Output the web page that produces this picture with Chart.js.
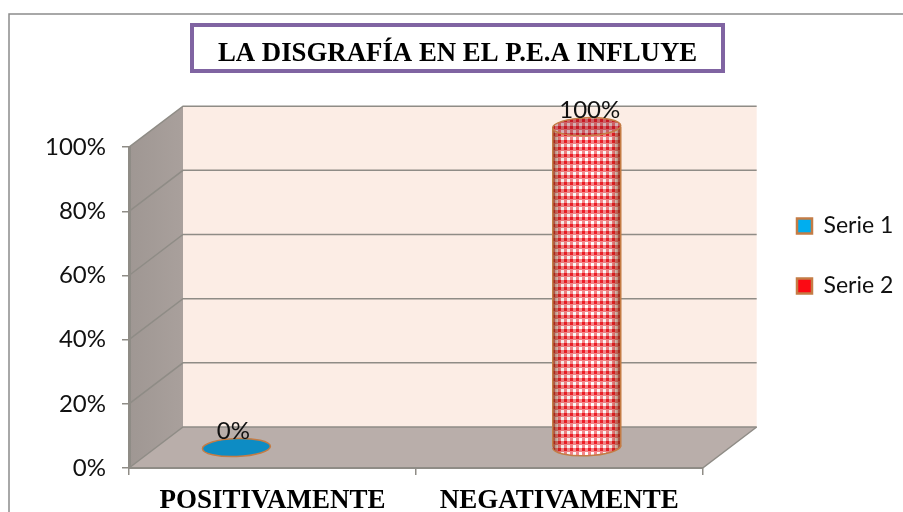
<!DOCTYPE html>
<html><head><meta charset="utf-8">
<style>html,body{margin:0;padding:0;background:#fff}#w{width:903px;height:512px}canvas{display:block}</style>
<script src="https://cdn.jsdelivr.net/npm/chart.js@4"></script>
</head><body><div id="w"><canvas id="c" width="903" height="512"></canvas></div>
<script>
const categories = ['POSITIVAMENTE', 'NEGATIVAMENTE'];
const serieNames = ['Serie 1', 'Serie 2'];
const serie1 = [0, null];
const serie2 = [null, 1];
const yTicks = [0, .2, .4, .6, .8, 1];
const titleText = 'LA DISGRAFÍA EN EL P.E.A INFLUYE';

const DX = 54, DY = -41;            // 3-D depth of the box
const SANS = 'Lato, sans-serif', SERIF = '"Liberation Serif", serif';

function gingham() {
  const p = document.createElement('canvas'); p.width = 6; p.height = 7;
  const g = p.getContext('2d');
  g.fillStyle = '#f58488'; g.fillRect(0, 0, 6, 7);
  g.fillStyle = '#ee1822'; g.fillRect(0, 0, 3, 3);
  g.fillStyle = '#ffffff'; g.fillRect(3, 4, 3, 3);
  return p;
}

const box3d = {
  id: 'box3d',
  afterLayout(chart) {
    const lg = chart.legend, w = lg.width;
    lg.left = 797 - lg.options.labels.padding; lg.right = lg.left + w;
    const t = chart.titleBlock; t.left += 34.5; t.right += 34.5;
  },
  beforeDraw(chart) {
    const c = chart.ctx, a = chart.chartArea, y = chart.scales.y;
    c.save();
    c.fillStyle = '#fff'; c.fillRect(0, 0, chart.width, chart.height);
    // outer frame
    c.strokeStyle = '#8c8c8c'; c.lineWidth = 1.5;
    c.beginPath(); c.moveTo(9, 512); c.lineTo(9, 14); c.lineTo(903, 14); c.stroke();
    // title frame
    c.strokeStyle = '#8064A2'; c.lineWidth = 4;
    c.strokeRect(192, 25, 531, 46);
    const L = a.left, R = a.right, T = y.getPixelForValue(1), B = y.getPixelForValue(0);
    // back wall
    c.fillStyle = '#fcede5';
    c.fillRect(L + DX, T + DY, R - L, B - T);
    // side wall
    const sg = c.createLinearGradient(L, 0, L + DX, 0);
    sg.addColorStop(0, '#9f9793'); sg.addColorStop(1, '#a9a09c');
    c.fillStyle = sg;
    c.beginPath(); c.moveTo(L, T); c.lineTo(L + DX, T + DY); c.lineTo(L + DX, B + DY); c.lineTo(L, B); c.closePath(); c.fill();
    // floor
    c.fillStyle = '#b9aeaa';
    c.beginPath(); c.moveTo(L, B); c.lineTo(L + DX, B + DY); c.lineTo(R + DX, B + DY); c.lineTo(R, B); c.closePath(); c.fill();
    // grid
    c.strokeStyle = '#8f8c86'; c.lineWidth = 1.5;
    yTicks.forEach(v => {
      const p = y.getPixelForValue(v);
      c.beginPath(); c.moveTo(L, p); c.lineTo(L + DX, p + DY); c.lineTo(R + DX, p + DY); c.stroke();
    });
    c.beginPath(); c.moveTo(L, B); c.lineTo(R, B); c.lineTo(R + DX, B + DY); c.stroke();
    c.restore();
  },
  afterDatasetsDraw(chart) {
    const c = chart.ctx;
    chart.data.datasets.forEach((ds, i) => {
      chart.getDatasetMeta(i).data.forEach((bar, j) => {
        if (ds.data[j] == null) return;
        const cx = bar.x + ds.depthShift, rx = bar.width / 2, ry = 9;
        const yTop = bar.y + DY / 2, yBase = bar.base + DY / 2, tilt = -0.035;
        c.save();
        c.lineWidth = 1.5; c.strokeStyle = ds.edge;
        if (ds.data[j] > 0) {
          // body
          c.beginPath();
          c.ellipse(cx, yBase, rx, ry, tilt, 0, Math.PI);
          c.lineTo(cx - rx, yTop);
          c.lineTo(cx + rx, yTop);
          c.closePath();
          c.save(); c.clip();
          c.fillStyle = c.createPattern(gingham(), 'repeat');
          c.fillRect(cx - rx - 2, yTop - 12, 2 * rx + 4, yBase - yTop + 26);
          const sh = c.createLinearGradient(cx - rx, 0, cx + rx, 0);
          sh.addColorStop(0, 'rgba(120,50,20,.7)');
          sh.addColorStop(.12, 'rgba(120,50,20,.1)');
          sh.addColorStop(.55, 'rgba(255,255,255,0)');
          sh.addColorStop(.88, 'rgba(120,50,20,.12)');
          sh.addColorStop(1, 'rgba(120,50,20,.75)');
          c.fillStyle = sh;
          c.fillRect(cx - rx - 2, yTop - 12, 2 * rx + 4, yBase - yTop + 26);
          c.restore();
          c.beginPath();
          c.ellipse(cx, yBase, rx, ry, tilt, 0, Math.PI);
          c.stroke();
          c.beginPath(); c.moveTo(cx - rx, yBase); c.lineTo(cx - rx, yTop); c.moveTo(cx + rx, yBase); c.lineTo(cx + rx, yTop); c.stroke();
        }
        // cap
        c.beginPath();
        c.ellipse(cx, yTop, rx, ry, tilt, 0, 2 * Math.PI);
        if (ds.data[j] > 0) {
          c.save(); c.clip();
          c.fillStyle = c.createPattern(gingham(), 'repeat');
          c.fillRect(cx - rx - 2, yTop - 12, 2 * rx + 4, 24);
          c.fillStyle = 'rgba(130,30,40,.35)';
          c.fillRect(cx - rx - 2, yTop - 12, 2 * rx + 4, 24);
          c.restore();
        } else {
          c.fillStyle = ds.capFill; c.fill();
        }
        c.stroke();
        // value label
        c.fillStyle = '#111'; c.font = '24px ' + SANS;
        c.textAlign = 'center'; c.textBaseline = 'alphabetic';
        c.fillText(Math.round(ds.data[j] * 100) + '%', cx + ds.labelShift, yTop - 9);
        c.restore();
      });
    });
  }
};

new Chart(document.getElementById('c'), {
  type: 'bar',
  plugins: [box3d],
  data: {
    labels: categories,
    datasets: [
      { label: serieNames[0], data: serie1, backgroundColor: 'rgba(0,0,0,0)', depthShift: -36, labelShift: -3, edge: '#c47c45', capFill: '#0d8cc4', legendFill: '#00aeef' },
      { label: serieNames[1], data: serie2, backgroundColor: 'rgba(0,0,0,0)', depthShift: 27.5, labelShift: 3, edge: '#c47c45', capFill: '#d04050', legendFill: '#fb0a14' }
    ]
  },
  options: {
    responsive: false, animation: false,
    layout: { padding: { left: 0, right: 57, top: 0, bottom: 0 } },
    datasets: { bar: { grouped: false, barThickness: 68 } },
    scales: {
      x: {
        offset: true,
        grid: { display: true, drawOnChartArea: false, drawTicks: true, tickLength: 7, color: '#8f8c86', lineWidth: 1.5, offset: true },
        border: { display: true, color: '#8f8c86', width: 2 },
        ticks: { color: '#000', padding: 10, maxRotation: 0, font: { family: SERIF, size: 27, weight: 'bold' } },
        afterFit(s) { s.height = 44; }
      },
      y: {
        min: 0, max: 1,
        afterBuildTicks(s) { s.ticks = yTicks.map(v => ({ value: v })); },
        grid: { display: true, drawOnChartArea: false, drawTicks: true, tickLength: 7, color: '#8f8c86', lineWidth: 1.5 },
        border: { display: true, color: '#8f8c86', width: 3 },
        ticks: { color: '#111', padding: 16, font: { family: SANS, size: 24 }, callback: v => Math.round(v * 100) + '%' },
        afterFit(s) { s.width = 129; }
      }
    },
    plugins: {
      title: { display: true, text: titleText, color: '#000', font: { family: SERIF, size: 26.8, weight: 'bold' }, padding: { top: 38, bottom: 77 } },
      tooltip: { enabled: false },
      legend: {
        position: 'right',
        labels: {
          color: '#111', font: { family: SANS, size: 23 }, boxWidth: 15, boxHeight: 15, padding: 37,
          generateLabels(chart) {
            return chart.data.datasets.map((d, i) => ({ text: d.label, fillStyle: d.legendFill, strokeStyle: d.edge, lineWidth: 2.5, datasetIndex: i, fontColor: '#111' }));
          }
        }
      }
    }
  }
});
</script></body></html>
